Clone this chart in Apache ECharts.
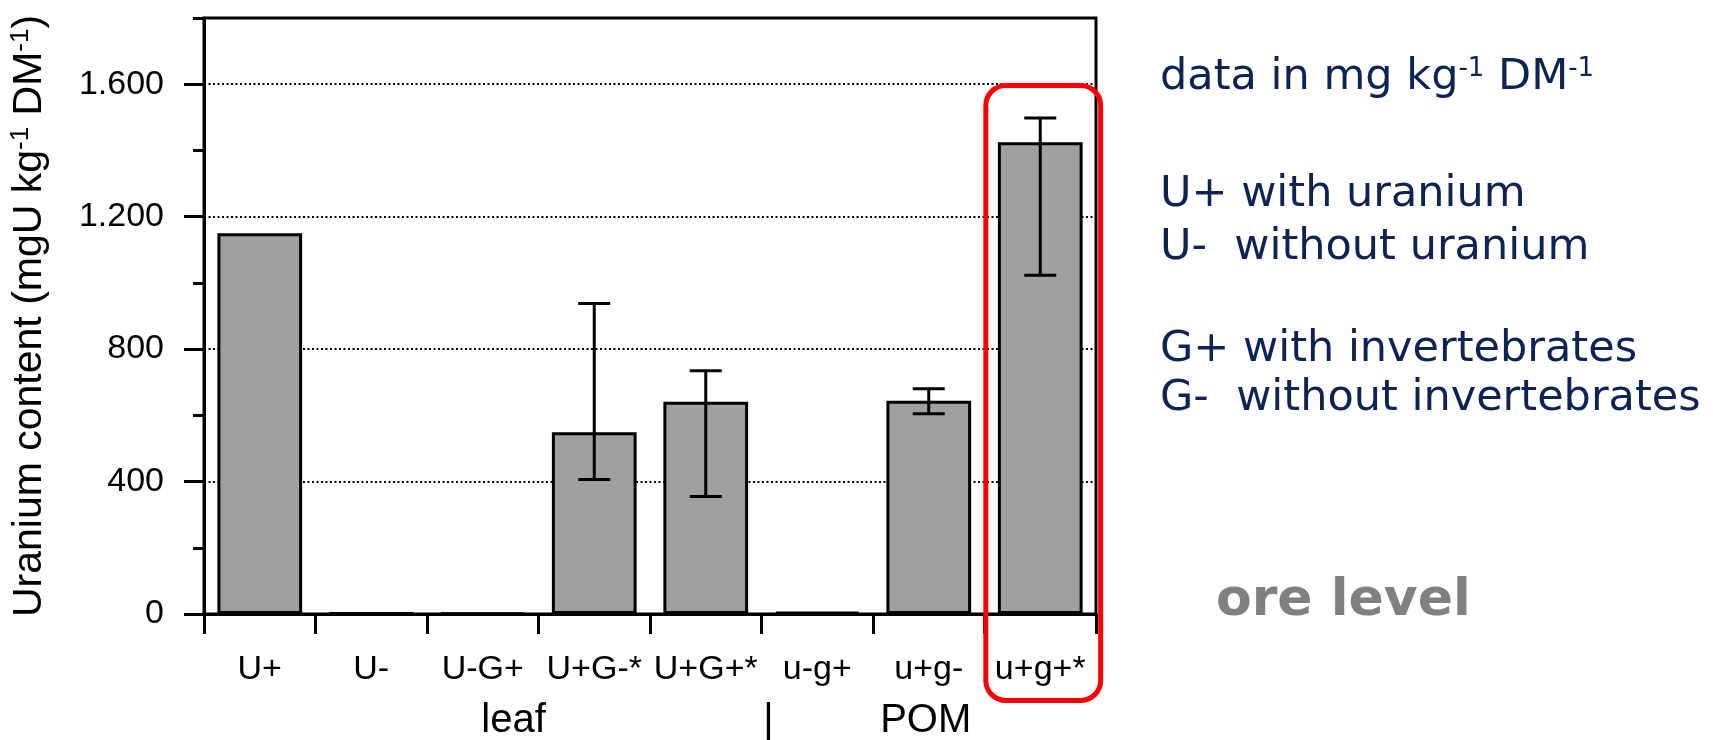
<!DOCTYPE html>
<html>
<head>
<meta charset="utf-8">
<script src="https://cdn.jsdelivr.net/npm/echarts@6/dist/echarts.min.js"></script>
<style>
  html, body { margin: 0; padding: 0; background: #fff; }
  #chart { width: 1713px; height: 740px; }
</style>
</head>
<body>
<div id="chart"></div>
<script>
// bar data
const categories = ['U+', 'U-', 'U-G+', 'U+G-*', 'U+G+*', 'u-g+', 'u+g-', 'u+g+*'];
const uranium = [1150, 3, 2, 549, 641, 6, 644, 1425];
const errLow = [null, null, null, 406, 355, null, 605, 1023];
const errHigh = [null, null, null, 938, 735, null, 680, 1498];
// y ticks
const majorTicks = [0, 400, 800, 1200, 1600];
const minorTicks = [200, 600, 1000, 1400, 1800];
// side notes
const notes = [
  'data in mg kg{s|-1} DM{s|-1}',
  'U+ with uranium',
  'U-  without uranium',
  'G+ with invertebrates',
  'G-  without invertebrates'
];
const oreNote = 'ore level';
const groupLabels = ['leaf', '|', 'POM'];
const highlighted = 'u+g+*';

const AXIS_FONT = '"Liberation Sans", Arial, sans-serif';
const NOTE_FONT = '"DejaVu Sans", Verdana, sans-serif';
const NAVY = '#0d2453';
const LW = 3;

const errData = categories.map((c, i) => [i, errLow[i], errHigh[i]]).filter(d => d[1] != null);

function fmt(v) {
  return v >= 1000 ? String(v).replace(/(\d)(\d{3})$/, '$1.$2') : String(v);
}

// axes that only carry ticks (no line, no labels)
function tickYAxis(values, len) {
  return {
    type: 'value', min: 0, max: 1800, interval: 200, position: 'left',
    axisLine: { show: false },
    axisTick: { show: true, length: len, customValues: values, lineStyle: { color: '#000', width: LW } },
    axisLabel: { show: false },
    splitLine: { show: false }
  };
}

const chart = echarts.init(document.getElementById('chart'));

chart.setOption({
  animation: false,
  grid: {
    left: 204, right: 617, top: 18, bottom: 126,
    show: true, borderColor: '#000', borderWidth: LW, backgroundColor: 'transparent'
  },
  xAxis: [
    {
      type: 'category',
      data: categories,
      axisLine: { show: true, lineStyle: { color: '#000', width: LW } },
      axisTick: { show: false },
      axisLabel: { interval: 0, color: '#000', fontFamily: AXIS_FONT, fontSize: 34, margin: 39 }
    },
    {
      type: 'category',
      data: categories,
      position: 'bottom',
      axisLine: { show: false },
      axisTick: { show: true, interval: 0, length: 20, lineStyle: { color: '#000', width: LW } },
      axisLabel: { show: false }
    }
  ],
  yAxis: [
    {
      type: 'value',
      min: 0, max: 1800, interval: 400,
      name: '{t|Uranium content (mgU kg}{s|-1}{t| DM}{s|-1}{t|)}',
      nameLocation: 'middle',
      nameGap: 152,
      nameTextStyle: {
        rich: {
          t: { fontFamily: AXIS_FONT, fontSize: 41, color: '#000', lineHeight: 44 },
          s: { fontFamily: AXIS_FONT, fontSize: 26, color: '#000', lineHeight: 26, verticalAlign: 'top' }
        }
      },
      axisLine: { show: true, lineStyle: { color: '#000', width: LW } },
      axisTick: { show: false },
      axisLabel: {
        customValues: majorTicks,
        color: '#000', fontFamily: AXIS_FONT, fontSize: 34, margin: 40,
        formatter: fmt
      },
      splitLine: { show: true, lineStyle: { color: '#000', width: 2, type: [2, 2.5] } }
    },
    tickYAxis(majorTicks, 20),
    tickYAxis(minorTicks, 11)
  ],
  series: [
    {
      type: 'bar',
      data: uranium,
      barWidth: '76%',
      itemStyle: { color: '#a0a0a0', borderColor: '#000', borderWidth: LW }
    },
    {
      type: 'custom',
      data: errData,
      z: 5,
      renderItem(params, api) {
        const lo = api.coord([api.value(0), api.value(1)]);
        const hi = api.coord([api.value(0), api.value(2)]);
        const hw = 16;
        const style = { stroke: '#000', lineWidth: LW };
        return {
          type: 'group',
          children: [
            { type: 'line', shape: { x1: lo[0], y1: lo[1], x2: hi[0], y2: hi[1] }, style },
            { type: 'line', shape: { x1: lo[0] - hw, y1: lo[1], x2: lo[0] + hw, y2: lo[1] }, style },
            { type: 'line', shape: { x1: hi[0] - hw, y1: hi[1], x2: hi[0] + hw, y2: hi[1] }, style }
          ]
        };
      }
    }
  ]
});

// annotations
const noteY = [78, 195, 248, 350, 399];
const graphics = notes.map((txt, i) => ({
  type: 'text',
  x: 1160, y: noteY[i],
  style: {
    text: txt,
    fill: NAVY,
    font: '43px ' + NOTE_FONT,
    verticalAlign: 'middle',
    rich: {
      s: { fontFamily: NOTE_FONT, fontSize: 26, fill: NAVY, verticalAlign: 'top', lineHeight: 27 }
    }
  }
}));
graphics.push({
  type: 'text', x: 1216, y: 601,
  style: { text: oreNote, fill: '#808080', font: 'bold 52px ' + NOTE_FONT, verticalAlign: 'middle' }
});

// group labels under the axis, anchored on category positions
const cx = c => chart.convertToPixel({ xAxisIndex: 0 }, c);
const step = cx(categories[1]) - cx(categories[0]);
const groupX = [
  (cx(categories[2]) + cx(categories[3])) / 2 - 25,
  (cx(categories[4]) + cx(categories[5])) / 2 + 7,
  cx(categories[6]) - 3
];
groupLabels.forEach((t, i) => {
  graphics.push({
    type: 'text', x: groupX[i], y: 721,
    style: { text: t, fill: '#000', font: '40px ' + AXIS_FONT, align: 'center', verticalAlign: 'middle' }
  });
});

// red highlight box round the last bar
const hx = cx(highlighted) + 3;
const boxW = step * 1.03;
graphics.push({
  type: 'rect',
  shape: { x: hx - boxW / 2, y: 85.5, width: boxW, height: 615, r: 20 },
  style: { fill: 'none', stroke: '#ff0000', lineWidth: 5 },
  z: 100
});

chart.setOption({ graphic: graphics });
</script>
</body>
</html>
